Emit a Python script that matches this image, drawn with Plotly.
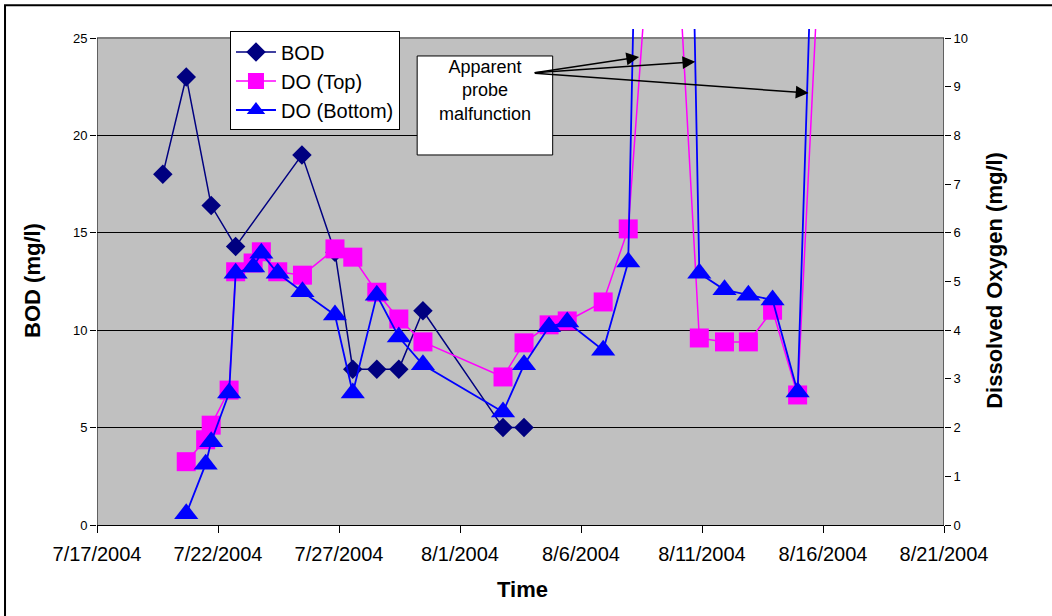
import plotly.graph_objects as go

# ---------------- data ----------------
bod_time = ["2004-07-19 17:15", "2004-07-20 16:30", "2004-07-21 17:15", "2004-07-22 17:30",
            "2004-07-25 11:15", "2004-07-26 20:00", "2004-07-27 13:40", "2004-07-28 13:30",
            "2004-07-29 11:20", "2004-07-30 11:15", "2004-08-02 18:40", "2004-08-03 15:30"]
bod = [18, 23, 16.4, 14.3, 19, 14, 8, 8, 8, 11, 5, 5]

do_time = ["2004-07-20 16:30", "2004-07-21 11:45", "2004-07-21 17:15", "2004-07-22 11:00",
           "2004-07-22 17:30", "2004-07-23 10:50", "2004-07-23 19:00", "2004-07-24 11:15",
           "2004-07-25 11:45", "2004-07-26 20:00", "2004-07-27 13:40", "2004-07-28 13:30",
           "2004-07-29 11:20", "2004-07-30 11:15", "2004-08-02 18:40", "2004-08-03 15:30",
           "2004-08-04 16:20", "2004-08-05 10:20", "2004-08-06 22:00", "2004-08-07 22:50",
           "2004-08-09 11:30", "2004-08-10 21:20", "2004-08-11 22:20", "2004-08-12 22:00",
           "2004-08-13 22:00", "2004-08-14 22:50", "2004-08-15 23:30"]
do_top = [1.30, 1.75, 2.05, 2.77, 5.20, 5.38, 5.61, 5.20, 5.13, 5.67, 5.50, 4.78, 4.23, 3.76,
          3.04, 3.74, 4.11, 4.19, 4.58, 6.08, 16.5, 3.84, 3.76, 3.76, 4.41, 2.67, 13.1]
do_bottom = [0.23, 1.25, 1.71, 2.71, 5.17, 5.30, 5.58, 5.17, 4.79, 4.31, 2.71, 4.72, 3.86, 3.29,
             2.32, 3.29, 4.07, 4.17, 3.59, 5.40, 41.5, 5.17, 4.83, 4.72, 4.62, 2.73, 18.9]

x_start, x_end = "2004-07-17", "2004-08-21"
bod_ticks = [0, 5, 10, 15, 20, 25]
do_ticks = list(range(0, 11))

# arrow targets (annotation callout) on DO axis
arrow_x = ["2004-08-08 09:36", "2004-08-10 17:17", "2004-08-15 09:36"]
arrow_y = [9.61, 9.51, 8.87]
arrow_ax = [-106, -162, -275]
arrow_ay = [16, 11, -20]

FONT = "Arial, Liberation Sans, sans-serif"

fig = go.Figure()
fig.add_trace(go.Scatter(x=bod_time, y=bod, name="BOD", mode="lines+markers",
                         line=dict(color="#000080", width=1.5),
                         marker=dict(symbol="diamond", size=15, color="#000080"),
                         yaxis="y"))
fig.add_trace(go.Scatter(x=do_time, y=do_top, name="DO (Top)", mode="lines+markers",
                         line=dict(color="#FF00FF", width=1.5),
                         marker=dict(symbol="square", size=19, color="#FF00FF"),
                         yaxis="y2"))
fig.add_trace(go.Scatter(x=do_time, y=do_bottom, name="DO (Bottom)", mode="lines+markers",
                         line=dict(color="#0000FF", width=1.8),
                         marker=dict(symbol="triangle-up", size=21, color="#0000FF"),
                         yaxis="y2"))

# plot area extends a few pixels above the top value so lines overshoot like in Excel
y_top = 25 + 9 / 19.48
y2_top = 10 + 9 / 48.7

shapes = [
    # grey plot area
    dict(type="rect", xref="x", yref="y", x0=x_start, x1=x_end, y0=0, y1=25,
         fillcolor="#C0C0C0", line=dict(width=0), layer="below"),
    # top border of plot area
    dict(type="line", xref="x", yref="y", x0=x_start, x1=x_end, y0=25, y1=25,
         line=dict(color="#808080", width=2), layer="between"),
    # left and right axis lines
    dict(type="line", xref="x", yref="y", x0=x_start, x1=x_start, y0=0, y1=25,
         line=dict(color="black", width=1), layer="between"),
    dict(type="line", xref="x", yref="y", x0=x_end, x1=x_end, y0=0, y1=25,
         line=dict(color="black", width=1), layer="between"),
    # callout box
    dict(type="rect", xref="paper", yref="paper", x0=0.378, x1=0.538, y0=0.746, y1=0.9456,
         fillcolor="white", line=dict(color="black", width=1), layer="above"),
    # outer chart frame
    dict(type="rect", xref="paper", yref="paper", x0=-0.1086, x1=1.14, y0=-0.205, y1=1.048,
         fillcolor="rgba(0,0,0,0)", line=dict(color="black", width=2), layer="above"),
]

annotations = [
    dict(text="Apparent<br>probe<br>malfunction", xref="paper", yref="paper", x=0.458, y=0.877,
         xanchor="center", yanchor="middle", showarrow=False, font=dict(size=18, color="black", family=FONT)),
    dict(text="BOD (mg/l)", xref="paper", yref="paper", x=-0.0756, y=0.494, textangle=-90,
         xanchor="center", yanchor="middle", showarrow=False,
         font=dict(size=22, color="black", family=FONT, weight="bold")),
    dict(text="Dissolved Oxygen (mg/l)", xref="paper", yref="paper", x=1.060, y=0.494, textangle=-90,
         xanchor="center", yanchor="middle", showarrow=False,
         font=dict(size=22, color="black", family=FONT, weight="bold")),
    dict(text="Time", xref="paper", yref="paper", x=0.502, y=-0.131,
         xanchor="center", yanchor="middle", showarrow=False,
         font=dict(size=22, color="black", family=FONT, weight="bold")),
]
for xa, ya, dx, dy in zip(arrow_x, arrow_y, arrow_ax, arrow_ay):
    annotations.append(dict(text="", x=xa, y=ya, xref="x", yref="y2", ax=dx, ay=dy,
                            showarrow=True, arrowhead=2, arrowsize=1.7, arrowwidth=1.5,
                            arrowcolor="black", standoff=0, startstandoff=0))

fig.update_layout(
    width=1052, height=616, autosize=False,
    margin=dict(l=97, r=108, t=29, b=91, pad=0),
    paper_bgcolor="white", plot_bgcolor="white",
    font=dict(family=FONT, color="black"),
    showlegend=True,
    legend=dict(x=0.157, y=0.995, xanchor="left", yanchor="top", bgcolor="white",
                bordercolor="black", borderwidth=1, font=dict(size=20, family=FONT, color="black"),
                itemwidth=40, tracegroupgap=0),
    xaxis=dict(type="date", range=[x_start, x_end], tick0=x_start, dtick=5 * 86400000,
               tickformat="%-m/%-d/%Y", ticks="outside", ticklen=7, tickcolor="black",
               showline=True, linecolor="black", linewidth=1, showgrid=False, zeroline=False,
               ticklabelstandoff=4,
               tickfont=dict(size=20, family=FONT, color="black")),
    yaxis=dict(range=[0, y_top], tickvals=bod_ticks, ticks="outside", ticklen=6, tickcolor="black",
               showgrid=True, gridcolor="black", gridwidth=1, zeroline=False, showline=False,
               tickfont=dict(size=13, family=FONT, color="black")),
    yaxis2=dict(range=[0, y2_top], tickvals=do_ticks, overlaying="y", side="right",
                ticks="outside", ticklen=6, tickcolor="black", showgrid=False, zeroline=False,
                showline=False, tickfont=dict(size=13, family=FONT, color="black")),
    yaxis3=dict(range=[0, y2_top], tickvals=do_ticks, overlaying="y", side="right",
                ticks="inside", ticklen=6, tickcolor="black", showgrid=False, zeroline=False,
                showline=False, showticklabels=False),
    shapes=shapes,
    annotations=annotations,
)

fig.write_html("out.html")
